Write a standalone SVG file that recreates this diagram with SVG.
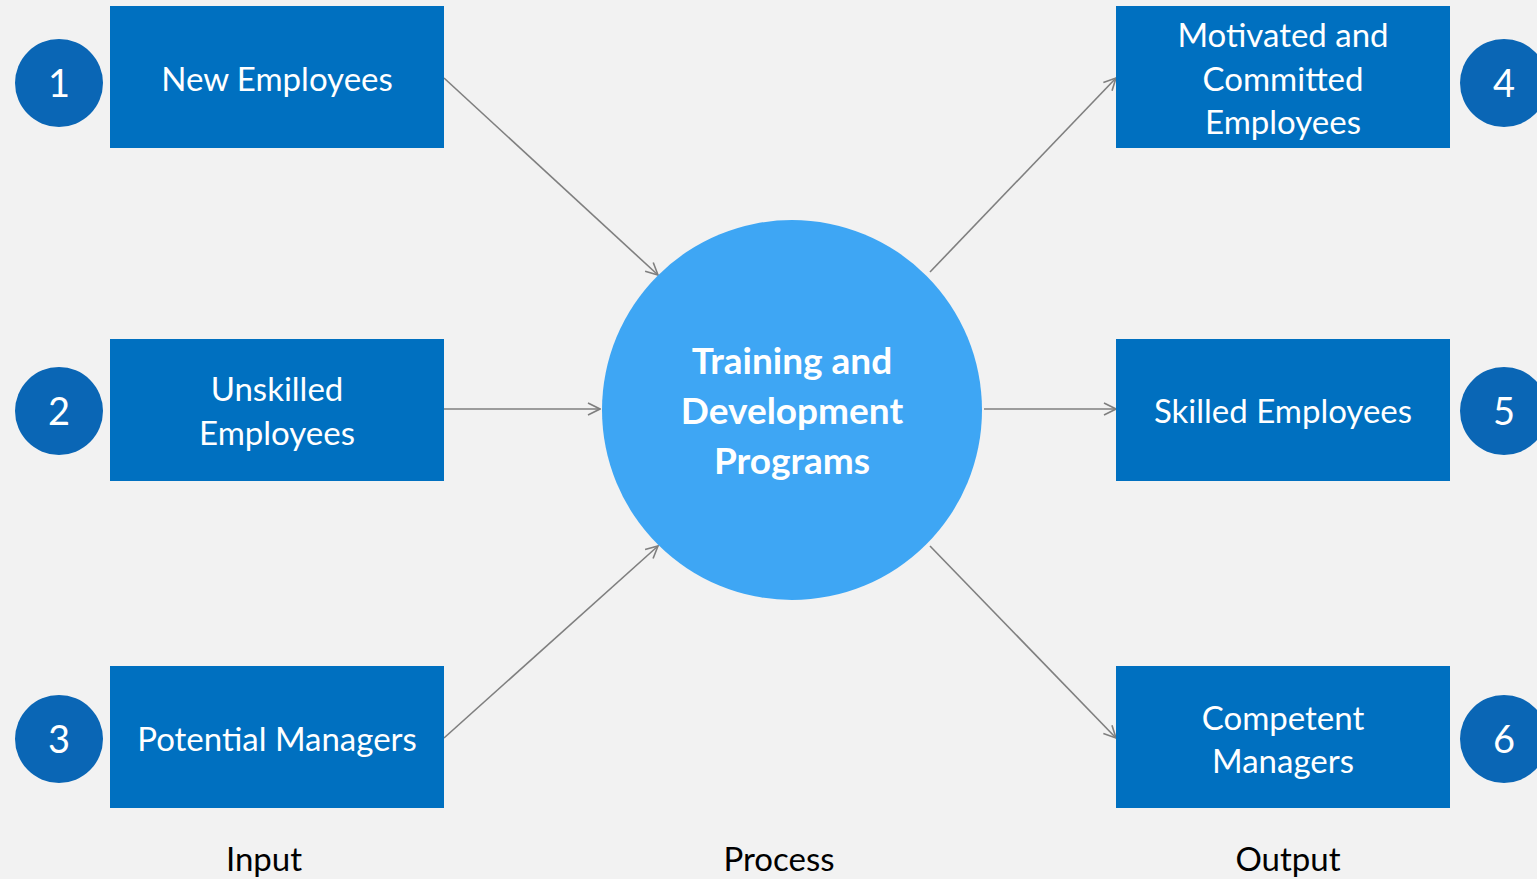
<svg xmlns="http://www.w3.org/2000/svg" width="1537" height="879" viewBox="0 0 1537 879">
<style>
.box{fill:#0070c0}
.num{fill:#0a66b5}
.t{font-family:Lato,"Open Sans","Liberation Sans",sans-serif;fill:#ffffff;font-size:33px;text-anchor:middle}
.n{font-family:Lato,"Open Sans","Liberation Sans",sans-serif;fill:#ffffff;font-size:38px;text-anchor:middle}
.c{font-family:Lato,"Open Sans","Liberation Sans",sans-serif;fill:#ffffff;font-size:37px;font-weight:bold;text-anchor:middle}
.lbl{font-family:Lato,"Open Sans","Liberation Sans",sans-serif;fill:#000000;font-size:33px;text-anchor:middle}
.edge{stroke:#7f7f7f;stroke-width:1.6;fill:none;marker-end:url(#arr)}
</style>
<defs>
<marker id="arr" viewBox="0 0 14 14" refX="13" refY="7" markerWidth="14" markerHeight="14" markerUnits="userSpaceOnUse" orient="auto">
<path d="M1,1 L13,7 L1,13" fill="none" stroke="#7f7f7f" stroke-width="1.6"/>
</marker>
</defs>
<rect width="1537" height="879" fill="#f2f2f2"/>
<g id="connectors">
<line class="edge" x1="444" y1="78" x2="658" y2="275"/>
<line class="edge" x1="444" y1="409" x2="600" y2="409"/>
<line class="edge" x1="444" y1="738" x2="658" y2="546"/>
<line class="edge" x1="930" y1="272" x2="1116" y2="78"/>
<line class="edge" x1="984" y1="409" x2="1116" y2="409"/>
<line class="edge" x1="930" y1="546" x2="1116" y2="738"/>
</g>
<g id="node-center">
<circle cx="792" cy="410" r="190" fill="#3ea6f4"/>
<text class="c" x="792" y="374">Training and</text>
<text class="c" x="792" y="424">Development</text>
<text class="c" x="792" y="474">Programs</text>
</g>
<g id="node-1">
<circle class="num" cx="59" cy="83" r="44"/>
<text class="n" x="59" y="97">1</text>
<rect class="box" x="110" y="6" width="334" height="142"/>
<text class="t" x="277" y="91">New Employees</text>
</g>
<g id="node-2">
<circle class="num" cx="59" cy="411" r="44"/>
<text class="n" x="59" y="425">2</text>
<rect class="box" x="110" y="339" width="334" height="142"/>
<text class="t" x="277" y="401">Unskilled</text>
<text class="t" x="277" y="445">Employees</text>
</g>
<g id="node-3">
<circle class="num" cx="59" cy="739" r="44"/>
<text class="n" x="59" y="753">3</text>
<rect class="box" x="110" y="666" width="334" height="142"/>
<text class="t" x="277" y="751">Potential Managers</text>
</g>
<g id="node-4">
<circle class="num" cx="1504" cy="83" r="44"/>
<text class="n" x="1504" y="97">4</text>
<rect class="box" x="1116" y="6" width="334" height="142"/>
<text class="t" x="1283" y="47">Motivated and</text>
<text class="t" x="1283" y="91">Committed</text>
<text class="t" x="1283" y="134">Employees</text>
</g>
<g id="node-5">
<circle class="num" cx="1504" cy="411" r="44"/>
<text class="n" x="1504" y="425">5</text>
<rect class="box" x="1116" y="339" width="334" height="142"/>
<text class="t" x="1283" y="423">Skilled Employees</text>
</g>
<g id="node-6">
<circle class="num" cx="1504" cy="739" r="44"/>
<text class="n" x="1504" y="753">6</text>
<rect class="box" x="1116" y="666" width="334" height="142"/>
<text class="t" x="1283" y="730">Competent</text>
<text class="t" x="1283" y="773">Managers</text>
</g>
<g id="labels">
<text class="lbl" x="264" y="871">Input</text>
<text class="lbl" x="779" y="871">Process</text>
<text class="lbl" x="1288" y="871">Output</text>
</g>
</svg>
